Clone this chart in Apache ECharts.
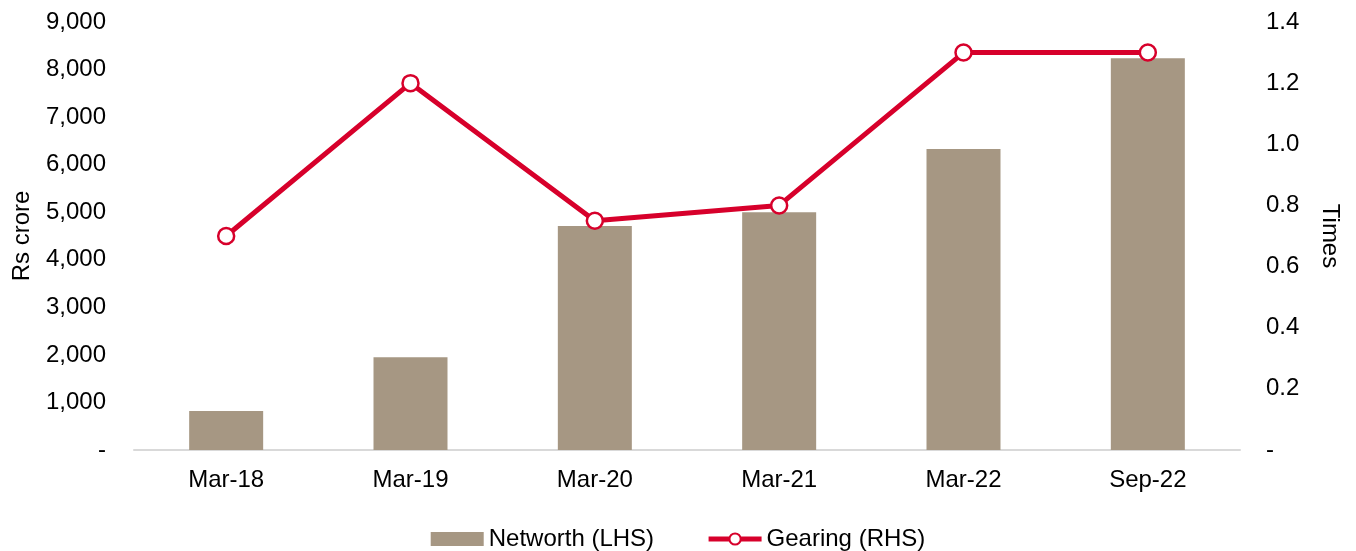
<!DOCTYPE html>
<html>
<head>
<meta charset="utf-8">
<script src="https://cdn.jsdelivr.net/npm/echarts@6/dist/echarts.min.js"></script>
<style>
	html, body { margin: 0; padding: 0; background: #fff; }
	#chart { width: 1356px; height: 551px; }
</style>
</head>
<body>
<div id="chart"></div>
<script>
"use strict";

const categories = ["Mar-18", "Mar-19", "Mar-20", "Mar-21", "Mar-22", "Sep-22"];
const networth = [820, 1950, 4710, 5000, 6330, 8240];
const gearing = [0.7, 1.2, 0.75, 0.8, 1.3, 1.3];

const font = "Liberation Sans, Arial, sans-serif";
const barColor = "#A69783";
const lineColor = "#D7002B";

// thousands separator, zero shown as a dash
const fmtLeft = (v) => v === 0 ? "-" : v.toLocaleString("en-US");
const fmtRight = (v) => v === 0 ? "-" : v.toFixed(1);

const chart = echarts.init(document.getElementById("chart"));
chart.setOption({
	animation: false,
	textStyle: { fontFamily: font, color: "#000" },
	grid: { left: 134, right: 116, top: 22, bottom: 101 },
	legend: {
		top: 522,
		left: "center",
		itemWidth: 53,
		itemHeight: 14,
		itemGap: 52,
		textStyle: { fontSize: 24, color: "#000", fontFamily: font },
		data: [
			{ name: "Networth (LHS)", icon: "rect" },
			{ name: "Gearing (RHS)", lineStyle: { width: 5 } }
		]
	},
	xAxis: {
		type: "category",
		data: categories,
		axisLine: { lineStyle: { color: "#D9D9D9", width: 2 } },
		axisTick: { show: false },
		axisLabel: { fontSize: 24, color: "#000", margin: 18 }
	},
	yAxis: [
		{
			type: "value",
			min: 0, max: 9000, interval: 1000,
			name: "Rs crore",
			nameLocation: "middle",
			nameRotate: 90,
			nameGap: 100,
			nameTextStyle: { fontSize: 24, color: "#000" },
			splitLine: { show: false },
			axisLine: { show: false },
			axisTick: { show: false },
			axisLabel: { fontSize: 24, color: "#000", margin: 28, formatter: fmtLeft }
		},
		{
			type: "value",
			min: 0, max: 1.4, interval: 0.2,
			name: "Times",
			nameLocation: "middle",
			nameRotate: -90,
			nameGap: 78,
			nameTextStyle: { fontSize: 24, color: "#000" },
			splitLine: { show: false },
			axisLine: { show: false },
			axisTick: { show: false },
			axisLabel: { fontSize: 24, color: "#000", margin: 26, formatter: fmtRight }
		}
	],
	series: [
		{
			name: "Networth (LHS)",
			type: "bar",
			data: networth,
			barWidth: 74,
			itemStyle: { color: barColor }
		},
		{
			name: "Gearing (RHS)",
			type: "line",
			yAxisIndex: 1,
			data: gearing,
			symbol: "circle",
			symbolSize: 16,
			lineStyle: { color: lineColor, width: 5 },
			itemStyle: { color: "#fff", borderColor: lineColor, borderWidth: 2.5 }
		}
	]
});
</script>
</body>
</html>
